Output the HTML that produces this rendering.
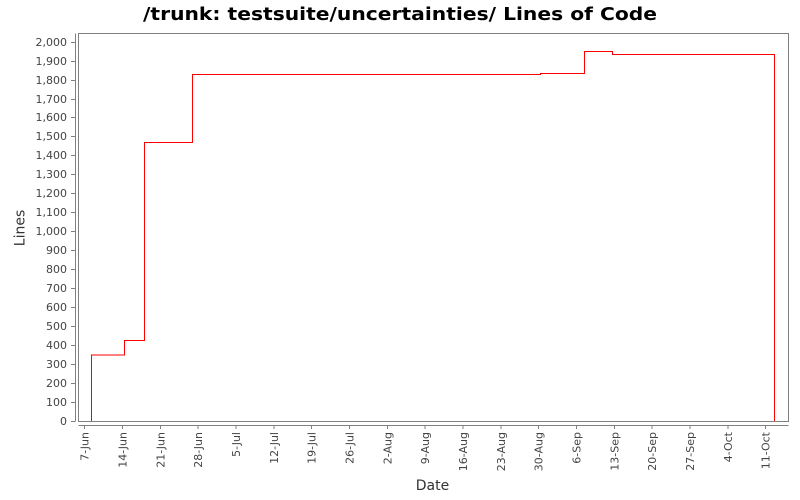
<!DOCTYPE html>
<html><head><meta charset="utf-8"><style>
html,body{margin:0;padding:0;background:#fff;}
svg{display:block;font-family:"DejaVu Sans","Liberation Sans",sans-serif;}
</style></head><body>
<svg width="800" height="500" viewBox="0 0 800 500" xmlns="http://www.w3.org/2000/svg">
<rect width="800" height="500" fill="#fff"/>
<text x="400" y="20" text-anchor="middle" font-size="18" font-weight="bold" fill="#000" textLength="514" lengthAdjust="spacingAndGlyphs">/trunk: testsuite/uncertainties/ Lines of Code</text>
<!-- plot border -->
<rect x="78.5" y="33.5" width="710" height="388" fill="#fff" stroke="#808080" stroke-width="1"/>
<!-- y axis -->
<line x1="75.5" y1="33.5" x2="75.5" y2="421.5" stroke="#808080"/>
<g stroke="#808080">
<line x1="71" y1="421.5" x2="75" y2="421.5"/><line x1="71" y1="402.5" x2="75" y2="402.5"/><line x1="71" y1="383.5" x2="75" y2="383.5"/><line x1="71" y1="364.5" x2="75" y2="364.5"/><line x1="71" y1="345.5" x2="75" y2="345.5"/><line x1="71" y1="326.5" x2="75" y2="326.5"/><line x1="71" y1="307.5" x2="75" y2="307.5"/><line x1="71" y1="288.5" x2="75" y2="288.5"/><line x1="71" y1="269.5" x2="75" y2="269.5"/><line x1="71" y1="250.5" x2="75" y2="250.5"/><line x1="71" y1="231.5" x2="75" y2="231.5"/><line x1="71" y1="212.5" x2="75" y2="212.5"/><line x1="71" y1="193.5" x2="75" y2="193.5"/><line x1="71" y1="174.5" x2="75" y2="174.5"/><line x1="71" y1="155.5" x2="75" y2="155.5"/><line x1="71" y1="136.5" x2="75" y2="136.5"/><line x1="71" y1="117.5" x2="75" y2="117.5"/><line x1="71" y1="99.5" x2="75" y2="99.5"/><line x1="71" y1="80.5" x2="75" y2="80.5"/><line x1="71" y1="61.5" x2="75" y2="61.5"/><line x1="71" y1="42.5" x2="75" y2="42.5"/>
</g>
<g font-size="11" fill="#444" text-anchor="end">
<text x="67" y="425">0</text><text x="67" y="406">100</text><text x="67" y="387">200</text><text x="67" y="368">300</text><text x="67" y="349">400</text><text x="67" y="330">500</text><text x="67" y="311">600</text><text x="67" y="292">700</text><text x="67" y="273">800</text><text x="67" y="254">900</text><text x="67" y="235">1,000</text><text x="67" y="216">1,100</text><text x="67" y="197">1,200</text><text x="67" y="178">1,300</text><text x="67" y="159">1,400</text><text x="67" y="140">1,500</text><text x="67" y="121">1,600</text><text x="67" y="103">1,700</text><text x="67" y="84">1,800</text><text x="67" y="65">1,900</text><text x="67" y="46">2,000</text>
</g>
<text transform="translate(24.5,228) rotate(-90)" text-anchor="middle" font-size="14" fill="#333">Lines</text>
<!-- x axis -->
<line x1="78.5" y1="425.5" x2="788.5" y2="425.5" stroke="#808080"/>
<g stroke="#808080">
<line x1="84.5" y1="425.5" x2="84.5" y2="429"/><line x1="122.5" y1="425.5" x2="122.5" y2="429"/><line x1="160.5" y1="425.5" x2="160.5" y2="429"/><line x1="198" y1="425.5" x2="198" y2="429"/><line x1="236" y1="425.5" x2="236" y2="429"/><line x1="274" y1="425.5" x2="274" y2="429"/><line x1="311.5" y1="425.5" x2="311.5" y2="429"/><line x1="349.5" y1="425.5" x2="349.5" y2="429"/><line x1="387.5" y1="425.5" x2="387.5" y2="429"/><line x1="425" y1="425.5" x2="425" y2="429"/><line x1="463" y1="425.5" x2="463" y2="429"/><line x1="501" y1="425.5" x2="501" y2="429"/><line x1="538.5" y1="425.5" x2="538.5" y2="429"/><line x1="576.5" y1="425.5" x2="576.5" y2="429"/><line x1="614.5" y1="425.5" x2="614.5" y2="429"/><line x1="652" y1="425.5" x2="652" y2="429"/><line x1="690" y1="425.5" x2="690" y2="429"/><line x1="728" y1="425.5" x2="728" y2="429"/><line x1="765.5" y1="425.5" x2="765.5" y2="429"/>
</g>
<g font-size="11" fill="#444" text-anchor="end">
<text transform="translate(88.5,432) rotate(-90)">7-Jun</text>
<text transform="translate(126.5,432) rotate(-90)">14-Jun</text>
<text transform="translate(164.5,432) rotate(-90)">21-Jun</text>
<text transform="translate(202,432) rotate(-90)">28-Jun</text>
<text transform="translate(240,432) rotate(-90)">5-Jul</text>
<text transform="translate(278,432) rotate(-90)">12-Jul</text>
<text transform="translate(315.5,432) rotate(-90)">19-Jul</text>
<text transform="translate(353.5,432) rotate(-90)">26-Jul</text>
<text transform="translate(391.5,432) rotate(-90)">2-Aug</text>
<text transform="translate(429,432) rotate(-90)">9-Aug</text>
<text transform="translate(467,432) rotate(-90)">16-Aug</text>
<text transform="translate(505,432) rotate(-90)">23-Aug</text>
<text transform="translate(542.5,432) rotate(-90)">30-Aug</text>
<text transform="translate(580.5,432) rotate(-90)">6-Sep</text>
<text transform="translate(618.5,432) rotate(-90)">13-Sep</text>
<text transform="translate(656,432) rotate(-90)">20-Sep</text>
<text transform="translate(694,432) rotate(-90)">27-Sep</text>
<text transform="translate(732,432) rotate(-90)">4-Oct</text>
<text transform="translate(769.5,432) rotate(-90)">11-Oct</text>
</g>
<text x="432.5" y="490" text-anchor="middle" font-size="14" fill="#333">Date</text>
<!-- series -->
<path d="M91.5,421 V355 H124.5 V340.5 H144.5 V142.5 H192.5 V74.5 H540.5 V73.5 H584.5 V51.5 H612.5 V54.5 H774.5 V421" fill="none" stroke="#ff0000" stroke-width="1"/>
</svg>
</body></html>
